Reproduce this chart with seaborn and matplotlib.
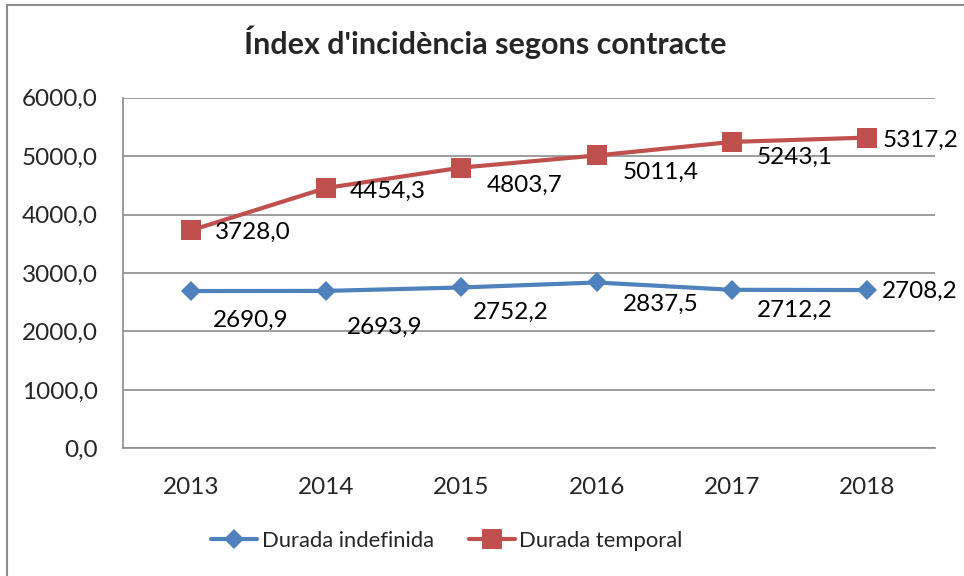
import matplotlib
matplotlib.use('Agg')
import matplotlib.pyplot as plt
import matplotlib.ticker as mticker
from matplotlib.patches import Rectangle
import seaborn as sns
import pandas as pd

# chart data
years = ['2013', '2014', '2015', '2016', '2017', '2018']
indefinida = [2690.9, 2693.9, 2752.2, 2837.5, 2712.2, 2708.2]
temporal = [3728.0, 4454.3, 4803.7, 5011.4, 5243.1, 5317.2]
series_names = ['Durada indefinida', 'Durada temporal']
y_ticks = [0, 1000, 2000, 3000, 4000, 5000, 6000]

# label placement (pixels from marker, y down)
off_ind = [(22, 29), (21, 36), (12, 25), (26, 22), (25, 21), (15, 1)]
off_tmp = [(24, 2), (24, 3), (25, 18), (26, 17), (25, 15), (15, 3)]

blue = '#4F81BD'
red = '#C0504D'
grid_col = '#8C8C8C'
num_size = 17.5

sns.set_style('white')
plt.rcParams['font.family'] = ['Lato', 'DejaVu Sans']

fig = plt.figure(figsize=(9.64, 5.76), dpi=100)
ax = fig.add_axes([123 / 964, 1 - 448.3 / 576, (935 - 123) / 964, (448.3 - 97.7) / 576])

df = pd.DataFrame({'year': years, 'ind': indefinida, 'tmp': temporal})
sns.lineplot(data=df, x='year', y='ind', ax=ax, color=blue, linewidth=3.0,
             marker='D', markersize=10.5, markeredgewidth=0, label=series_names[0])
sns.lineplot(data=df, x='year', y='tmp', ax=ax, color=red, linewidth=3.0,
             marker='s', markersize=14, markeredgewidth=0, label=series_names[1])

def fmt(v):
    return f'{v:.1f}'.replace('.', ',')

for i, (v, (dx, dy)) in enumerate(zip(indefinida, off_ind)):
    ax.annotate(fmt(v), (i, v), xytext=(dx, -dy), textcoords='offset pixels',
                ha='left', va='center', fontsize=num_size, color='black')
for i, (v, (dx, dy)) in enumerate(zip(temporal, off_tmp)):
    ax.annotate(fmt(v), (i, v), xytext=(dx, -dy), textcoords='offset pixels',
                ha='left', va='center', fontsize=num_size, color='black')

ax.set_xlim(-0.5, len(years) - 0.5)
ax.set_ylim(0, 6000)
ax.set_yticks(y_ticks)
ax.yaxis.set_major_formatter(mticker.FuncFormatter(lambda v, p: fmt(v)))
ax.grid(axis='y', color=grid_col, linewidth=1.2)
ax.set_axisbelow(True)
ax.set_xlabel('')
ax.set_ylabel('')
ax.tick_params(axis='x', length=0, pad=21, labelsize=num_size)
ax.tick_params(axis='y', length=0, pad=18, labelsize=num_size)
for side in ['top', 'right']:
    ax.spines[side].set_visible(False)
for side in ['left', 'bottom']:
    ax.spines[side].set_color(grid_col)
    ax.spines[side].set_linewidth(1.2)

ax.get_legend().remove()
handles, labels = ax.get_legend_handles_labels()
fig.legend(handles, labels, loc='center', bbox_to_anchor=(447 / 964, 1 - 541 / 576),
           ncol=2, frameon=False, fontsize=15.8, handlelength=2.1,
           handletextpad=0.2, columnspacing=1.6)

fig.text(485.5 / 964, 1 - 54 / 576, "Índex d'incidència segons contracte",
         ha='center', va='baseline', fontsize=22, fontweight='bold')

# chart area border
fig.patches.append(Rectangle((7 / 964, -0.1), 1.2, 1 - 5 / 576 + 0.1,
                             transform=fig.transFigure, fill=False,
                             edgecolor='#8C8C8C', linewidth=1.5))

fig.savefig('out.png', dpi=100)
